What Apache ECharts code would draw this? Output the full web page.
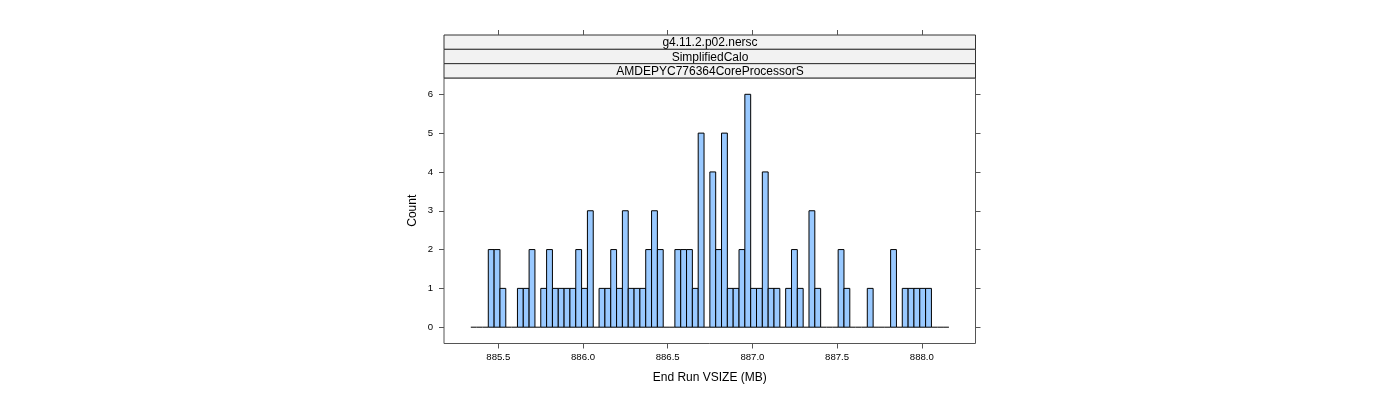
<!DOCTYPE html>
<html>
<head>
<meta charset="utf-8">
<script src="https://cdn.jsdelivr.net/npm/echarts@6/dist/echarts.min.js"></script>
<style>
  html, body { margin: 0; padding: 0; background: #fff; }
  #chart { width: 1400px; height: 400px; }
</style>
</head>
<body>
<div id="chart"></div>
<script>
// histogram bins (evenly spaced breaks) and counts
var binStart = 885.3377;
var binWidth = 0.03442;
var counts = [
  0, 0, 0, 2, 2, 1, 0, 0, 1, 1,
  2, 0, 1, 2, 1, 1, 1, 1, 2, 1,
  3, 0, 1, 1, 2, 1, 3, 1, 1, 1,
  2, 3, 2, 0, 0, 2, 2, 2, 1, 5,
  0, 4, 2, 5, 1, 1, 2, 6, 1, 1,
  4, 1, 1, 0, 1, 2, 1, 0, 3, 1,
  0, 0, 0, 2, 1, 0, 0, 0, 1, 0,
  0, 0, 2, 0, 1, 1, 1, 1, 1, 0,
  0, 0
];
var xTicks = [885.5, 886.0, 886.5, 887.0, 887.5, 888.0];
var yTicks = [0, 1, 2, 3, 4, 5, 6];
var stripLabels = ['g4.11.2.p02.nersc', 'SimplifiedCalo', 'AMDEPYC776364CoreProcessorS'];

var xMin = 885.1795, xMax = 888.317;
var yMin = -0.42, yMax = 6.42;
var font = '"Liberation Sans", Arial, sans-serif';
var axisCol = '#555';

var data = counts.map(function (c, i) {
  return [binStart + i * binWidth, binStart + (i + 1) * binWidth, c];
});

var chart = echarts.init(document.getElementById('chart'));

// strips above the panel
var graphics = [];
var stripTop = 35, stripH = 14.33;
stripLabels.forEach(function (s, i) {
  graphics.push({
    type: 'rect',
    shape: { x: 444, y: stripTop + i * stripH, width: 531.5, height: stripH },
    style: { fill: '#f2f2f2', stroke: '#333', lineWidth: 1 }
  });
  graphics.push({
    type: 'text',
    x: 710, y: stripTop + i * stripH + stripH / 2 + 1,
    style: { text: s, font: '12px ' + font, fill: '#000', align: 'center', verticalAlign: 'middle' }
  });
});

chart.setOption({
  animation: false,
  grid: [
    { left: 444, right: 424.5, top: 78, bottom: 56.5, show: true, borderColor: axisCol, borderWidth: 1, backgroundColor: 'transparent' },
    { left: 444, right: 424.5, top: 35, height: 43, show: false }
  ],
  xAxis: [
    {
      type: 'value', gridIndex: 0, min: xMin, max: xMax,
      name: 'End Run VSIZE (MB)', nameLocation: 'middle', nameGap: 28,
      nameTextStyle: { fontFamily: font, fontSize: 12, color: '#000' },
      axisLine: { show: false, onZero: false },
      splitLine: { show: false },
      axisTick: { show: true, inside: false, length: 5, customValues: xTicks, lineStyle: { color: axisCol } },
      axisLabel: { customValues: xTicks, margin: 9, fontFamily: font, fontSize: 9.6, color: '#000',
        formatter: function (v) { return v.toFixed(1); } }
    },
    {
      type: 'value', gridIndex: 1, position: 'top', min: xMin, max: xMax,
      axisLine: { show: false, onZero: false },
      splitLine: { show: false },
      axisTick: { show: true, inside: false, length: 5, customValues: xTicks, lineStyle: { color: axisCol } },
      axisLabel: { show: false }
    }
  ],
  yAxis: [
    {
      type: 'value', gridIndex: 0, min: yMin, max: yMax,
      name: 'Count', nameLocation: 'middle', nameGap: 25, nameRotate: 90,
      nameTextStyle: { fontFamily: font, fontSize: 12, color: '#000' },
      axisLine: { show: false, onZero: false },
      splitLine: { show: false },
      axisTick: { show: true, inside: false, length: 5, customValues: yTicks, lineStyle: { color: axisCol } },
      axisLabel: { customValues: yTicks, margin: 11, fontFamily: font, fontSize: 9.6, color: '#000' }
    },
    {
      type: 'value', gridIndex: 0, position: 'right', min: yMin, max: yMax,
      axisLine: { show: false, onZero: false },
      splitLine: { show: false },
      axisTick: { show: true, inside: false, length: 5, customValues: yTicks, lineStyle: { color: axisCol } },
      axisLabel: { show: false }
    },
    {
      type: 'value', gridIndex: 1, show: false, min: 0, max: 1
    }
  ],
  graphic: graphics,
  series: [{
    type: 'custom',
    xAxisIndex: 0, yAxisIndex: 0,
    data: data,
    renderItem: function (params, api) {
      var p0 = api.coord([api.value(0), 0]);
      var p1 = api.coord([api.value(1), api.value(2)]);
      if (api.value(2) === 0) {
        return { type: 'line', shape: { x1: p0[0], y1: p0[1], x2: p1[0], y2: p0[1] },
          style: { stroke: '#000', lineWidth: 1 } };
      }
      return {
        type: 'rect',
        shape: { x: p0[0], y: p1[1], width: p1[0] - p0[0], height: p0[1] - p1[1] },
        style: { fill: '#99c9ff', stroke: '#000', lineWidth: 1 }
      };
    }
  }]
});
</script>
</body>
</html>
